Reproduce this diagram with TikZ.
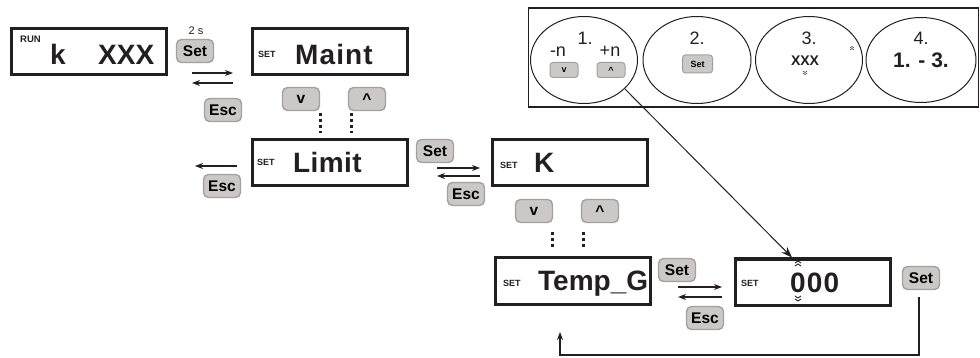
\documentclass[tikz,border=0pt]{standalone}
\usepackage{fontspec}
\setmainfont{Liberation Sans}
\newfontfamily\widefont[LetterSpace=4]{Liberation Sans}
\newfontfamily\semiwidefont[LetterSpace=1.5]{Liberation Sans}
\usetikzlibrary{arrows.meta,shapes.geometric}
\definecolor{ink}{HTML}{231F20}
\definecolor{btnfill}{HTML}{CBC8C8}
\definecolor{btnedge}{HTML}{A3A0A0}
\tikzset{
  disp/.style={draw=ink, line width=3pt, minimum width=155pt, minimum height=46pt, inner sep=0pt},
  btn/.style={draw=btnedge, fill=btnfill, line width=1.4pt, rounded corners=5pt, minimum width=37pt, minimum height=23pt, inner sep=0pt, font=\fontsize{15.5}{16}\selectfont\bfseries, text=black},
  sbtn/.style={draw=btnedge, fill=btnfill, line width=1pt, rounded corners=3pt, minimum width=28pt, minimum height=15pt, inner sep=0pt, font=\fontsize{9}{10}\selectfont\bfseries, text=black},
  big/.style={anchor=base west, inner sep=0pt, font=\fontsize{28}{30}\selectfont\bfseries, text=ink},
  bigwide/.style={big, font=\widefont\fontsize{28}{30}\selectfont\bfseries},
  bigsemi/.style={big, font=\semiwidefont\fontsize{28}{30}\selectfont\bfseries},
  tag/.style={anchor=base west, inner sep=0pt, font=\fontsize{9}{10}\selectfont\bfseries, text=ink},
  lg/.style={anchor=base, inner sep=0pt, font=\fontsize{18}{20}\selectfont, text=ink},
  flow/.style={draw=ink, line width=1.2pt, -{Stealth[length=8pt,width=6pt]}},
  dots/.style={draw=ink, line width=3pt, dash pattern=on 3pt off 3pt},
  oval/.style={draw=ink, line width=1pt, ellipse}
}
\begin{document}
\begin{tikzpicture}[x=1pt,y=-1pt]
\useasboundingbox (0,0) rectangle (980,358);
% displays
\node[disp] (d1) at (89,51.5) {};
\node[tag, font=\fontsize{9.5}{10}\selectfont\bfseries] (run) at (20,43) {RUN};
\node[big] (k) at (50,65) {k};
\node[big] (xxx) at (98,65) {XXX};

\node[disp] (d2) at (329.5,51.5) {};
\node[tag] (s2) at (258,58) {SET};
\node[bigwide] (maint) at (295,65) {Maint};

\node[disp] (d3) at (330,163) {};
\node[tag] (s3) at (257,166) {SET};
\node[bigsemi] (limit) at (293,173) {Limit};

\node[disp] (d4) at (570,162.5) {};
\node[tag] (s4) at (500,169) {SET};
\node[big] (kk) at (534,173) {K};

\node[disp] (d5) at (573,281) {};
\node[tag] (s5) at (503,287) {SET};
\node[big] (temp) at (538,290) {Temp\_G};

\node[disp] (d6) at (813,282) {};
\node[tag] (s6) at (741,287) {SET};
\node[bigwide] (zeros) at (790,292) {000};
% chevrons on first digit
\draw[ink, line width=0.9pt] (795,263) -- (798,261) -- (801,263) (795,266) -- (798,264) -- (801,266);
\draw[ink, line width=0.9pt] (795,296) -- (798,298) -- (801,296) (795,299) -- (798,301) -- (801,299);

% buttons
\node[font=\fontsize{11}{12}\selectfont, text=ink] (two) at (196,31) {2 s};
\node[btn] (set1) at (195,51) {Set};
\node[btn] (esc1) at (223,110) {Esc};
\node[btn] (v1) at (301,99) {v};
\node[btn] (u1) at (367,99) {\raisebox{-0.5ex}{\textasciicircum}};
\node[btn] (esc2) at (222,186) {Esc};
\node[btn] (set2) at (435,151) {Set};
\node[btn] (esc3) at (466,194) {Esc};
\node[btn] (v2) at (534,211) {v};
\node[btn] (u2) at (600,211) {\raisebox{-0.5ex}{\textasciicircum}};
\node[btn] (set3) at (677,270) {Set};
\node[btn] (esc4) at (705,318) {Esc};
\node[btn] (set4) at (921,278) {Set};

% arrow coordinates
\coordinate (a1s) at (192,73); \coordinate (a1e) at (233,73);
\coordinate (b1s) at (233,83); \coordinate (b1e) at (192,83);
\coordinate (c1s) at (237,166); \coordinate (c1e) at (195,166);
\coordinate (a2s) at (437,168); \coordinate (a2e) at (480,168);
\coordinate (b2s) at (480,176); \coordinate (b2e) at (437,176);
\coordinate (a3s) at (678,287); \coordinate (a3e) at (722,287);
\coordinate (b3s) at (722,297); \coordinate (b3e) at (678,297);
\coordinate (r1) at (919,297); \coordinate (r2) at (919,355);
\coordinate (r3) at (560,355); \coordinate (r4) at (560,332);
\draw[flow] (a1s) -- (a1e);
\draw[flow] (b1s) -- (b1e);
\draw[flow] (c1s) -- (c1e);
\draw[flow] (a2s) -- (a2e);
\draw[flow] (b2s) -- (b2e);
\draw[flow] (a3s) -- (a3e);
\draw[flow] (b3s) -- (b3e);
\draw[flow] (r1) -- (r2) -- (r3) -- (r4);

% dotted
\coordinate (p1) at (320,113); \coordinate (p2) at (320,133);
\coordinate (p3) at (351,113); \coordinate (p4) at (351,133);
\coordinate (p5) at (552,232); \coordinate (p6) at (552,248);
\coordinate (p7) at (583,232); \coordinate (p8) at (583,248);
\draw[dots] (p1) -- (p2);
\draw[dots] (p3) -- (p4);
\draw[dots] (p5) -- (p6);
\draw[dots] (p7) -- (p8);

% legend
\node[draw=ink, line width=1.2pt, minimum width=450pt, minimum height=99pt, inner sep=0pt] (legend) at (753.5,57.5) {};
\node[oval, minimum width=107pt, minimum height=87pt] (e1) at (584,60) {};
\node[oval, minimum width=108pt, minimum height=87pt] (e2) at (697,60) {};
\node[oval, minimum width=107pt, minimum height=87pt] (e3) at (809,60) {};
\node[oval, minimum width=110pt, minimum height=85pt] (e4) at (921,60) {};
\node[lg] (n1) at (585,45) {1.};
\node[lg] (mn) at (558,57) {-n};
\node[lg] (pn) at (610,57) {+n};
\node[sbtn] (lv) at (564,70) {v};
\node[sbtn] (lu) at (611,70) {\raisebox{-0.5ex}{\textasciicircum}};
\node[lg] (n2) at (697,45) {2.};
\node[sbtn, minimum width=30pt, minimum height=18pt] (lset) at (697.5,64) {Set};
\node[lg] (n3) at (809,45) {3.};
\node[lg, font=\fontsize{14}{16}\selectfont\bfseries] (lx) at (805,66) {XXX};
\draw[ink, line width=0.5pt] (803,71) -- (805,72.5) -- (807,71) (803,73) -- (805,74.5) -- (807,73);
\draw[ink, line width=0.5pt] (850,48) -- (852,46.5) -- (854,48) (850,50) -- (852,48.5) -- (854,50);
\node[lg] (n4) at (921,45) {4.};
\node[lg, font=\fontsize{21}{22}\selectfont\bfseries] (n13) at (921,68) {1. - 3.};

\coordinate (lstart) at (625,89);
\coordinate (tipx) at (792,0);
\draw[ink, line width=1pt, -{Stealth[length=11pt,width=8pt]}] (lstart) -- (tipx |- d6.north);
\end{tikzpicture}
\end{document}
